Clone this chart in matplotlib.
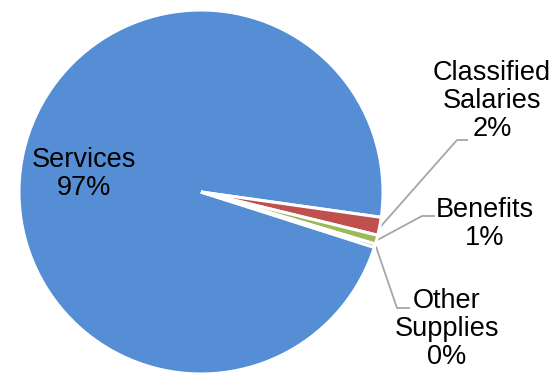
import numpy as np
import matplotlib.pyplot as plt

plt.rcParams['font.family'] = ['Liberation Sans', 'DejaVu Sans']

# expenditure shares (percent)
labels = ['Services', 'Classified\nSalaries', 'Benefits', 'Other\nSupplies']
shares = [97.3, 1.6, 0.8, 0.3]
colors = ['#558ED5', '#C0504D', '#9BBB59', '#8064A2']

# label anchor points (x, y) and elbow of the leader line, in figure pixels
label_pos = [(84, 202), (492, 275), (485, 152), (447, 47)]
elbows = [None, (457, 236, 468), (422, 160, 435), (397, 68, 410)]

W, H = 557, 376
center = (201, 184)
radius = 182

fig = plt.figure(figsize=(W / 100, H / 100), dpi=100)
ax = fig.add_axes([0, 0, 1, 1])

# Services ends just below the 3 o'clock position, the rest follow clockwise
start = -8.0 + 360 * shares[0] / sum(shares)
wedges, _ = ax.pie(shares, colors=colors, startangle=start, counterclock=False,
                   center=center, radius=radius,
                   wedgeprops=dict(edgecolor='white', linewidth=2.2))

for i, (w, lab, pos) in enumerate(zip(wedges, labels, label_pos)):
    pct = '%d%%' % round(shares[i])
    ax.text(pos[0], pos[1], lab + '\n' + pct, ha='center', va='center',
            fontsize=19.5, linespacing=1.12, color='black')
    if elbows[i] is None:
        continue
    mid = np.deg2rad((w.theta1 + w.theta2) / 2)
    x0 = center[0] + radius * 1.005 * np.cos(mid)
    y0 = center[1] + radius * 1.005 * np.sin(mid)
    ex, ey, hx = elbows[i]
    ax.plot([x0, ex, hx], [y0, ey, ey], color='#A6A6A6', lw=1.3,
            solid_capstyle='butt', zorder=0.5)

ax.set_xlim(0, W)
ax.set_ylim(0, H)
ax.set_aspect('equal')
ax.axis('off')

fig.savefig('out.png', dpi=100)
